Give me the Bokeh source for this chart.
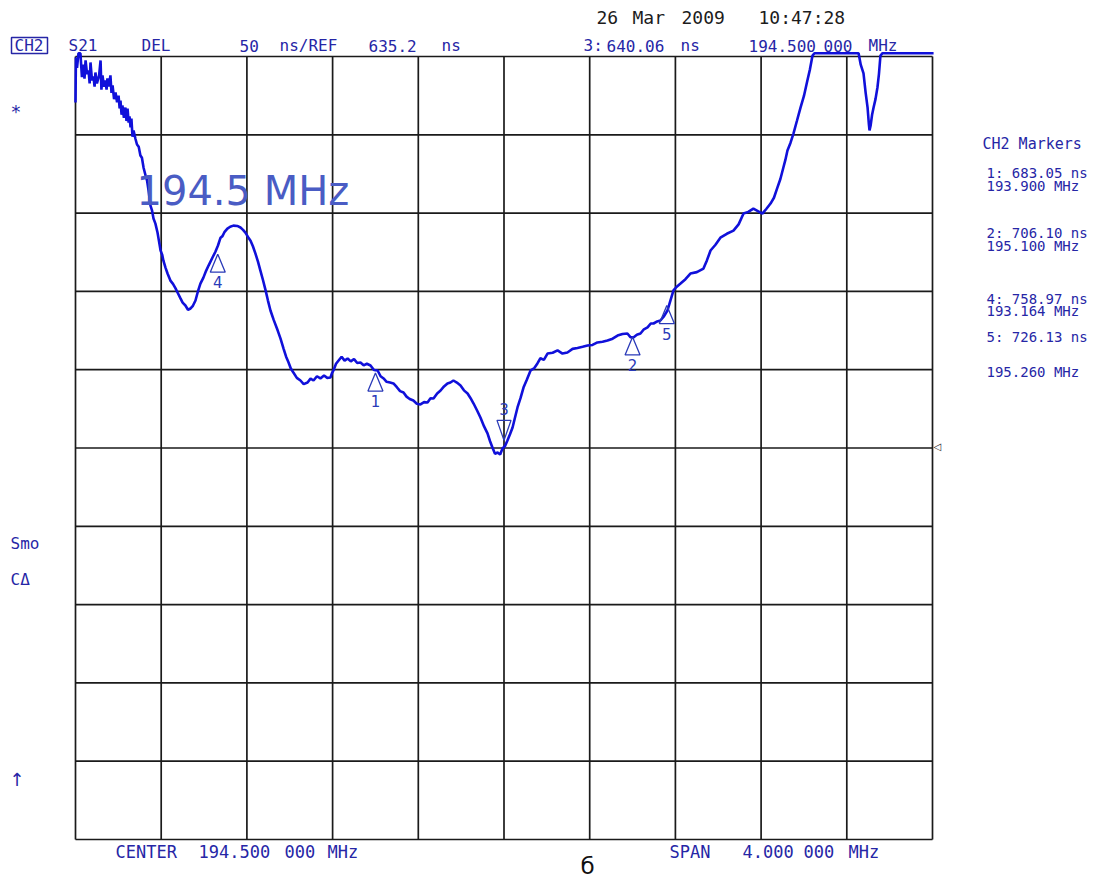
from bokeh.plotting import figure
from bokeh.models import Grid
from bokeh.core.properties import value
from bokeh.embed import file_html
from bokeh.resources import INLINE

center_mhz = 194.5
span_mhz = 4.0
ref_ns = 635.2
scale_ns = 50.0   # ns per division

freq_mhz = [
    192.500, 192.502, 192.507, 192.514, 192.523, 192.530, 192.537, 192.542, 192.547, 192.554,
    192.561, 192.566, 192.570, 192.577, 192.584, 192.589, 192.593, 192.600, 192.610, 192.617,
    192.621, 192.626, 192.633, 192.640, 192.645, 192.649, 192.656, 192.663, 192.668, 192.673,
    192.680, 192.687, 192.694, 192.701, 192.706, 192.710, 192.715, 192.719, 192.726, 192.733,
    192.738, 192.743, 192.748, 192.752, 192.757, 192.761, 192.766, 192.771, 192.780, 192.787,
    192.795, 192.803, 192.810, 192.818, 192.827, 192.834, 192.841, 192.850, 192.857, 192.864,
    192.873, 192.883, 192.890, 192.897, 192.905, 192.910, 192.920, 192.930, 192.943, 192.955,
    192.967, 192.978, 192.990, 193.000, 193.013, 193.025, 193.037, 193.048, 193.060, 193.071,
    193.083, 193.097, 193.110, 193.121, 193.140, 193.153, 193.165, 193.177, 193.186, 193.195,
    193.209, 193.222, 193.237, 193.255, 193.270, 193.282, 193.293, 193.305, 193.317, 193.328,
    193.340, 193.352, 193.363, 193.375, 193.387, 193.398, 193.410, 193.425, 193.443, 193.457,
    193.471, 193.483, 193.494, 193.505, 193.517, 193.533, 193.550, 193.565, 193.583, 193.597,
    193.611, 193.627, 193.643, 193.660, 193.675, 193.690, 193.697, 193.704, 193.716, 193.728,
    193.742, 193.756, 193.770, 193.785, 193.800, 193.815, 193.830, 193.845, 193.860, 193.877,
    193.893, 193.910, 193.924, 193.938, 193.952, 193.968, 193.984, 194.000, 194.015, 194.031,
    194.045, 194.060, 194.077, 194.093, 194.110, 194.127, 194.143, 194.157, 194.171, 194.188,
    194.204, 194.220, 194.236, 194.250, 194.264, 194.280, 194.297, 194.313, 194.330, 194.344,
    194.358, 194.375, 194.390, 194.407, 194.423, 194.435, 194.446, 194.458, 194.470, 194.482,
    194.493, 194.505, 194.516, 194.528, 194.540, 194.552, 194.563, 194.577, 194.591, 194.607,
    194.624, 194.640, 194.656, 194.670, 194.686, 194.703, 194.727, 194.750, 194.773, 194.796,
    194.820, 194.843, 194.867, 194.890, 194.913, 194.936, 194.960, 194.983, 195.007, 195.030,
    195.053, 195.076, 195.090, 195.104, 195.120, 195.137, 195.153, 195.170, 195.185, 195.198,
    195.215, 195.230, 195.245, 195.263, 195.277, 195.291, 195.305, 195.324, 195.347, 195.370,
    195.400, 195.431, 195.447, 195.464, 195.487, 195.510, 195.540, 195.571, 195.595, 195.618,
    195.640, 195.664, 195.685, 195.706, 195.725, 195.744, 195.760, 195.776, 195.790, 195.804,
    195.813, 195.823, 195.837, 195.851, 195.867, 195.884, 195.900, 195.916, 195.928, 195.940,
    195.949, 196.155, 196.165, 196.178, 196.188, 196.197, 196.203, 196.206, 196.211, 196.218,
    196.225, 196.234, 196.243, 196.250, 196.257, 196.267, 196.505,
]

delay_ns = [
    855.8, 884.6, 878.0, 887.3, 887.3, 872.0, 880.0, 871.0, 882.7, 874.0,
    876.3, 868.0, 881.4, 870.0, 872.5, 866.0, 875.0, 868.0, 873.0, 882.7,
    864.0, 873.1, 866.0, 869.9, 864.0, 871.2, 866.0, 873.1, 862.0, 866.7,
    858.0, 862.3, 856.0, 860.3, 852.0, 857.1, 848.0, 853.9, 846.0, 852.6,
    844.0, 852.0, 843.0, 846.9, 840.0, 845.6, 834.0, 838.0, 832.5, 829.0,
    827.5, 822.0, 820.5, 814.0, 809.2, 806.0, 799.6, 790.0, 787.0, 781.7,
    778.5, 772.7, 767.0, 761.3, 758.5, 755.0, 750.4, 746.5, 742.1, 740.0,
    737.1, 734.0, 730.7, 728.0, 726.2, 723.5, 724.3, 726.0, 729.4, 735.0,
    740.2, 744.0, 748.5, 751.7, 757.0, 760.5, 764.5, 769.5, 770.5, 773.0,
    775.3, 776.5, 777.2, 777.0, 776.0, 774.5, 772.7, 770.0, 767.6, 764.0,
    759.3, 754.0, 748.5, 742.5, 736.0, 729.5, 723.0, 717.0, 710.5, 705.0,
    698.7, 693.5, 690.0, 686.0, 683.4, 680.0, 678.3, 676.0, 677.0, 679.5,
    678.3, 681.0, 679.6, 681.5, 680.0, 680.2, 683.0, 684.7, 689.0, 691.1,
    693.5, 691.0, 692.4, 690.5, 692.0, 689.5, 689.8, 688.0, 689.0, 687.9,
    685.0, 684.7, 681.0, 679.6, 677.5, 677.0, 676.4, 674.0, 671.5, 670.6,
    668.0, 666.5, 665.5, 663.5, 663.0, 664.5, 664.3, 667.0, 666.8, 670.0,
    671.9, 674.5, 676.4, 677.0, 678.3, 677.0, 675.1, 672.0, 670.0, 667.0,
    663.6, 659.0, 654.7, 649.0, 644.5, 639.5, 635.5, 631.5, 632.3, 631.0,
    634.9, 636.5, 640.0, 644.0, 648.3, 655.0, 661.1, 667.0, 673.8, 679.0,
    684.7, 686.0, 689.2, 692.5, 691.5, 695.5, 696.0, 697.5, 695.5, 696.2,
    698.5, 699.0, 699.8, 700.6, 701.0, 702.6, 703.0, 703.8, 705.0, 707.0,
    708.0, 708.3, 706.0, 705.8, 707.5, 708.3, 711.0, 712.2, 714.7, 714.7,
    716.0, 716.6, 719.0, 723.0, 729.5, 735.8, 738.0, 740.2, 743.0, 746.6,
    747.5, 749.8, 755.0, 761.3, 765.0, 769.5, 772.0, 774.0, 778.0, 784.9,
    786.0, 788.1, 786.5, 784.9, 788.0, 791.3, 795.0, 801.5, 807.0, 814.3,
    819.0, 825.2, 830.0, 836.0, 844.0, 852.6, 860.0, 869.9, 877.0, 885.8,
    887.3, 887.3, 880.0, 874.4, 862.0, 852.6, 842.0, 838.0, 841.0, 848.0,
    852.6, 858.0, 865.4, 874.0, 885.8, 887.3, 887.3,
]

marker_ids = ["1", "2", "3", "4", "5"]
marker_freq = [193.900, 195.100, 194.500, 193.164, 195.260]
marker_delay = [683.05, 706.10, 640.06, 758.97, 726.13]
active_marker = "3"

x_ticks = [center_mhz - span_mhz / 2 + i * span_mhz / 10 for i in range(11)]
y_ticks = [ref_ns + (i - 5) * scale_ns for i in range(11)]

# ---------------- layout ----------------
W, H = 1114, 882
GX0, GY0 = 75, 56               # page pixel of the grid's top-left corner
PXM = 857 / span_mhz            # px per MHz
PXN = 783 / (10 * scale_ns)     # px per ns
x_lo = x_ticks[0] - GX0 / PXM
x_hi = x_lo + W / PXM
y_hi = y_ticks[-1] + GY0 / PXN
y_lo = y_hi - H / PXN

BLUE_TXT = "#2626a6"
MARK = "#2a3ab8"
TRACE = "#1010da"
MONO = "DejaVu Sans Mono"

p = figure(frame_width=W, frame_height=H,
           x_range=(x_lo, x_hi), y_range=(y_lo, y_hi),
           output_backend="svg", toolbar_location=None,
           x_axis_location=None, y_axis_location=None,
           min_border=0, outline_line_color=None, title=None,
           background_fill_color="white", border_fill_color="white")
p.center = [r for r in p.center if not isinstance(r, Grid)]


def X(px):
    return x_lo + px / PXM


def Y(py):
    return y_hi - py / PXN


# graticule
p.segment(x0=x_ticks, x1=x_ticks, y0=[y_ticks[0]] * 11, y1=[y_ticks[-1]] * 11,
          line_color="#1a1a1a", line_width=1.7)
p.segment(x0=[x_ticks[0]] * 11, x1=[x_ticks[-1]] * 11, y0=y_ticks, y1=y_ticks,
          line_color="#1a1a1a", line_width=1.7)

# trace
p.line(freq_mhz, delay_ns, line_color=TRACE, line_width=2.6)

# markers
txs, tys, ixs, iys = [], [], [], []
lab_x, lab_y, lab_t = [], [], []
for mid, f, d in zip(marker_ids, marker_freq, marker_delay):
    if mid == active_marker:
        ixs.append([f - 7 / PXM, f + 7 / PXM, f])
        iys.append([d + 20 / PXN, d + 20 / PXN, d])
        lab_y.append(d + 31 / PXN)
    else:
        txs.append([f - 7.5 / PXM, f + 7.5 / PXM, f])
        tys.append([d - 18 / PXN, d - 18 / PXN, d])
        lab_y.append(d - 28 / PXN)
    lab_x.append(f)
    lab_t.append(mid)

p.patches(txs, tys, fill_color=None, line_color=MARK, line_width=1.3)
p.patches(ixs, iys, fill_color=None, line_color=MARK, line_width=1.3)
p.text(lab_x, lab_y, text=lab_t, text_font=value("DejaVu Sans"),
       text_font_size="15px", text_color=MARK,
       text_align="center", text_baseline="middle")


def lab(items, py, size="16px", color=BLUE_TXT, font=MONO, baseline="middle"):
    p.text(x=[X(px) for _, px in items], y=[Y(py)] * len(items),
           text=[t for t, _ in items], text_font=value(font),
           text_font_size=size, text_color=color,
           text_align="left", text_baseline=baseline)


# big annotation inside the grid
lab([("194.5 MHz", 136)], 190, size="40px", color="#4a5cc4", font="DejaVu Sans")

# header row
p.quad(left=[X(11)], right=[X(47)], top=[Y(37)], bottom=[Y(53)],
       fill_color=None, line_color=BLUE_TXT, line_width=1.5)
lab([("CH2", 14), ("S21", 68), ("DEL", 141), ("50", 239), ("ns/REF", 279),
     ("635.2", 368), ("ns", 441), ("3:", 583), ("640.06", 606),
     ("ns", 680), ("194.500", 748), ("000", 823), ("MHz", 868)], 45)

# date / time
lab([("26", 596), ("Mar", 632), ("2009", 681), ("10:47:28", 758)], 17,
    size="18px", color="#1c1c1c")

# bottom row
lab([("CENTER", 115), ("194.500", 198), ("000", 284), ("MHz", 327),
     ("SPAN", 669), ("4.000", 742), ("000", 803), ("MHz", 848)], 851, size="17px")

# left annotations
lab([("*", 10)], 111, size="18px")
lab([("Smo", 10)], 543)
lab([("CΔ", 10)], 579)
lab([("↑", 9)], 779, size="18px", font="DejaVu Sans")

# reference position indicator
lab([("◁", 933)], 446, size="10px", color="#1c1c1c", font="DejaVu Sans")

# marker list on the right
lab([("CH2 Markers", 982)], 143, size="15px")
for t, py in [("1: 683.05 ns", 172), ("193.900 MHz", 185),
              ("2: 706.10 ns", 232), ("195.100 MHz", 245),
              ("4: 758.97 ns", 298), ("193.164 MHz", 310),
              ("5: 726.13 ns", 336), ("195.260 MHz", 371)]:
    lab([(t, 986)], py, size="14px")

# caption
lab([("б", 580)], 865, size="23px", color="#111111", font="DejaVu Sans")

open("out.html", "w").write(file_html(p, INLINE))
